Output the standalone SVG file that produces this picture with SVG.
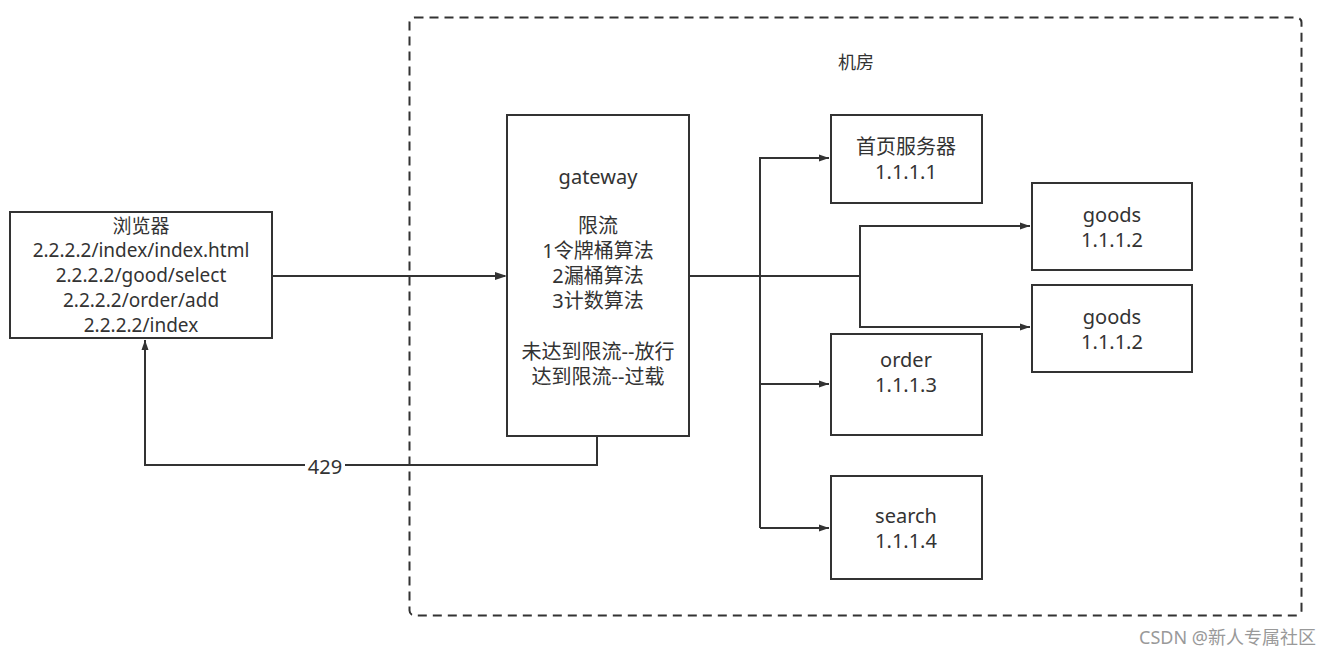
<svg xmlns="http://www.w3.org/2000/svg" width="1332" height="658" viewBox="0 0 1332 658">
<defs>
<marker id="ah" viewBox="0 0 10 10" refX="10" refY="5" markerWidth="10" markerHeight="10" markerUnits="userSpaceOnUse" orient="auto"><path d="M0,1.5 L10,5 L0,8.5 Z" fill="#333"/></marker>
<style>
.box{fill:#fff;stroke:#333;stroke-width:2}
.t{font-family:"Noto Sans","Noto Sans CJK SC",sans-serif;font-size:20px;fill:#333;text-anchor:middle}
.s{font-size:19px}
.c{fill:none;stroke:#333;stroke-width:2}
</style>
</defs>
<rect width="1332" height="658" fill="#fff"/>
<g id="room">
<rect x="409.5" y="17.5" width="892" height="598" rx="5" fill="none" stroke="#333" stroke-width="2" stroke-dasharray="9,6"/>
<text class="t" x="856" y="69" style="font-size:18px">机房</text>
</g>
<g id="connectors">
<path class="c" d="M272,276 L505,276"/>
<path d="M495,272 L507,276 L495,280 Z" fill="#333"/>
<path class="c" d="M689,276 L860,276"/>
<path class="c" d="M760,528 L760,158 L829,158" marker-end="url(#ah)"/>
<path class="c" d="M760,384 L829,384" marker-end="url(#ah)"/>
<path class="c" d="M760,528 L829,528" marker-end="url(#ah)"/>
<path class="c" d="M860,276 L860,226 L1030,226" marker-end="url(#ah)"/>
<path class="c" d="M860,276 L860,327 L1030,327" marker-end="url(#ah)"/>
<path class="c" d="M597,436 L597,465 L145,465 L145,340" marker-end="url(#ah)"/>
<rect x="305" y="454" width="40" height="24" fill="#fff"/>
<text class="t" x="325" y="474">429</text>
</g>
<g id="browser">
<rect class="box" x="10" y="212" width="262" height="126"/>
<text class="t s" x="141" y="233">浏览器</text>
<text class="t s" x="141" y="257">2.2.2.2/index/index.html</text>
<text class="t s" x="141" y="282">2.2.2.2/good/select</text>
<text class="t s" x="141" y="307">2.2.2.2/order/add</text>
<text class="t s" x="141" y="332">2.2.2.2/index</text>
</g>
<g id="gateway">
<rect class="box" x="507" y="115" width="182" height="321"/>
<text class="t" x="598" y="184">gateway</text>
<text class="t" x="598" y="233">限流</text>
<text class="t" x="598" y="258">1令牌桶算法</text>
<text class="t" x="598" y="283">2漏桶算法</text>
<text class="t" x="598" y="308">3计数算法</text>
<text class="t" x="598" y="359">未达到限流--放行</text>
<text class="t" x="598" y="384">达到限流--过载</text>
</g>
<g id="home">
<rect class="box" x="831" y="115" width="151" height="88"/>
<text class="t" x="906" y="154">首页服务器</text>
<text class="t" x="906" y="179">1.1.1.1</text>
</g>
<g id="goods1">
<rect class="box" x="1032" y="183" width="160" height="87"/>
<text class="t" x="1112" y="222">goods</text>
<text class="t" x="1112" y="247">1.1.1.2</text>
</g>
<g id="goods2">
<rect class="box" x="1032" y="285" width="160" height="87"/>
<text class="t" x="1112" y="324">goods</text>
<text class="t" x="1112" y="349">1.1.1.2</text>
</g>
<g id="order">
<rect class="box" x="831" y="334" width="151" height="101"/>
<text class="t" x="906" y="367">order</text>
<text class="t" x="906" y="392">1.1.1.3</text>
</g>
<g id="search">
<rect class="box" x="831" y="476" width="151" height="103"/>
<text class="t" x="906" y="523">search</text>
<text class="t" x="906" y="548">1.1.1.4</text>
</g>
<text x="1316" y="644" font-family="Noto Sans,'Noto Sans CJK SC',sans-serif" font-size="18" fill="#999" text-anchor="end">CSDN @新人专属社区</text>
</svg>
